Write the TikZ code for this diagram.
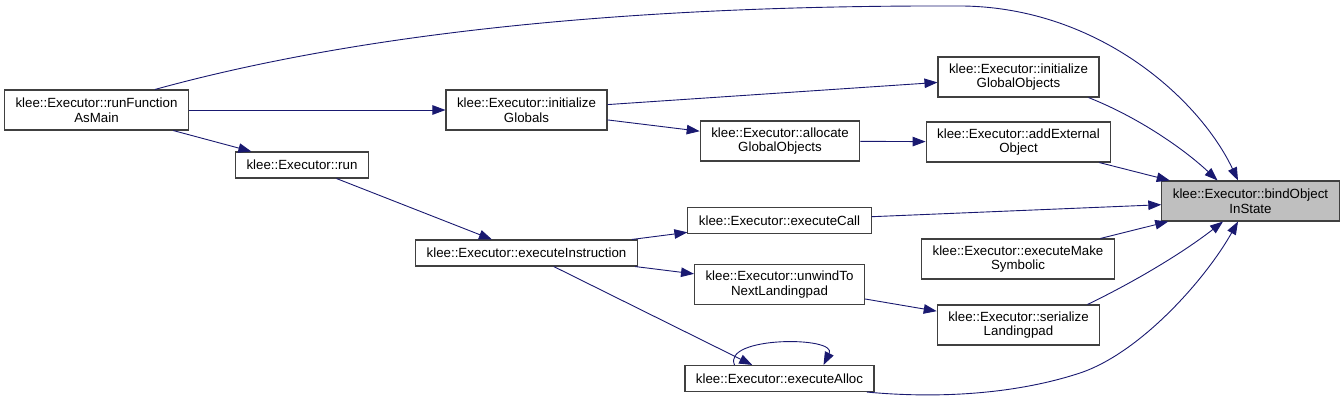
\documentclass[tikz,border=0pt]{standalone}
\usepackage{fontspec}
\setmainfont{Liberation Sans}
\usepackage{xcolor}
\usetikzlibrary{arrows.meta}
\definecolor{edgeblue}{HTML}{191970}

\begin{document}
\begin{tikzpicture}[x=1pt, y=-1pt,
	 fn/.style={draw=black!75, line width=1.1pt, fill=white, inner xsep=11pt, inner ysep=2pt,
	   align=center, minimum height=26pt, font=\fontsize{13.3}{14.7}\selectfont},
	 fn2/.style={fn, minimum height=40pt},
	 root/.style={fn2, fill=black!25},
	 call/.style={draw=edgeblue, line width=0.9pt, -{Triangle[length=13pt,width=9.5pt]}}] %%%{{{
	 \useasboundingbox (0,0) rectangle (1344,400);
	 \node[fn2] (main) at (96.5,110) {klee::Executor::runFunction\\AsMain};
	 \node[fn2] (initG) at (526.5,110) {klee::Executor::initialize\\Globals};
	 \node[fn] (run) at (302,165) {klee::Executor::run};
	 \node[fn] (execInstr) at (526.5,253) {klee::Executor::executeInstruction};
	 \node[fn2] (initGO) at (1018.5,77) {klee::Executor::initialize\\GlobalObjects};
	 \node[fn2] (allocGO) at (780,141) {klee::Executor::allocate\\GlobalObjects};
	 \node[fn2] (addExt) at (1018.5,142) {klee::Executor::addExternal\\Object};
	 \node[root] (bind) at (1250.5,201) {klee::Executor::bindObject\\InState};
	 \node[fn] (execCall) at (779.5,220.5) {klee::Executor::executeCall};
	 \node[fn2] (execMake) at (1018,259) {klee::Executor::executeMake\\Symbolic};
	 \node[fn2] (unwind) at (779.5,284.5) {klee::Executor::unwindTo\\NextLandingpad};
	 \node[fn2] (serial) at (1018.5,325) {klee::Executor::serialize\\Landingpad};
	 \node[fn] (execAlloc) at (779.5,378.5) {klee::Executor::executeAlloc};
	 \foreach \a/\b in {main/initG, main/run, initG/initGO, initG/allocGO, allocGO/addExt,
	   addExt/bind, run/execInstr, execInstr/execCall, execInstr/unwind, execInstr/execAlloc,
	   execCall/bind, execMake/bind, unwind/serial}
	   \draw[call] (\a) -- (\b);
	 \draw[call] ([xshift=58.5]main.north) .. controls (400,22) and (700,5) .. (963,6)
	   .. controls (1100,8) and (1200,100) .. ([xshift=-12.5]bind.north);
	 \draw[call] ([xshift=70]initGO.south) .. controls (1140,118) and (1185,150) .. ([xshift=-33]bind.north);
	 \draw[call] ([xshift=69]serial.north) .. controls (1130,284) and (1180,255) .. ([xshift=-27.5]bind.south);
	 \draw[call] ([xshift=87.5]execAlloc.south) .. controls (930,398) and (1010,396) .. (1080,373)
	   .. controls (1140,353) and (1205,280) .. ([xshift=-12.5]bind.south);
	 % self call
	 \draw[call] ([xshift=-45]execAlloc.north) .. controls (722,336) and (838,336) .. ([xshift=44]execAlloc.north);
      \end{tikzpicture}
\end{document}
